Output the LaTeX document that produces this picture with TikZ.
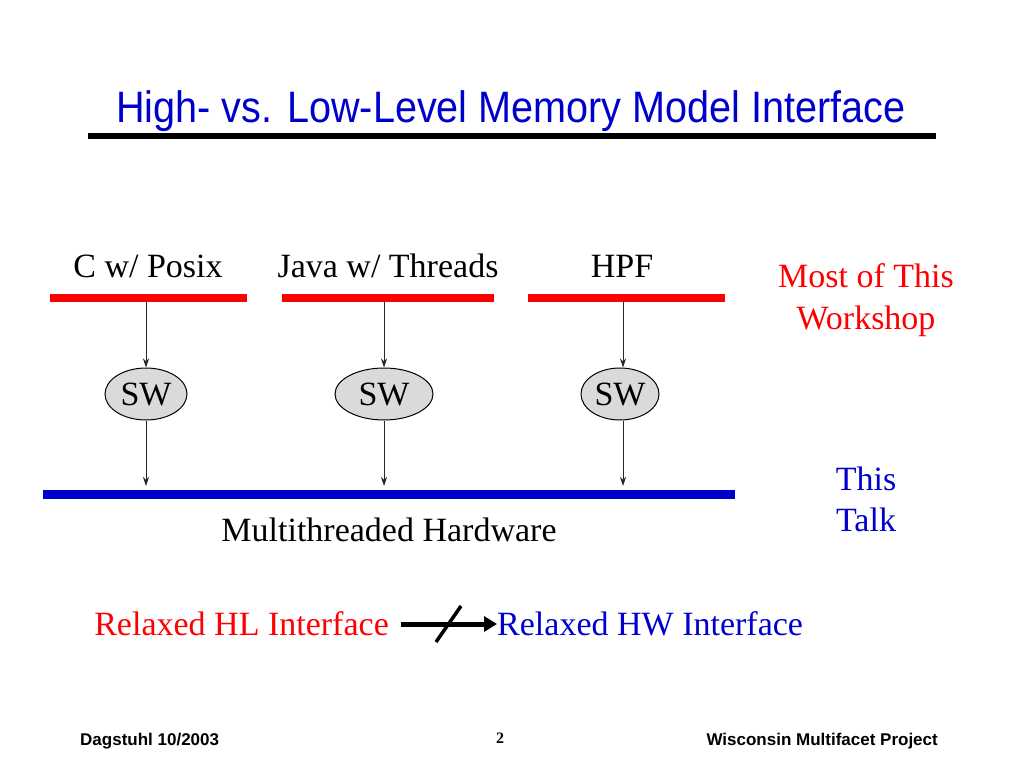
\documentclass[tikz,border=0pt]{standalone}
\usepackage{fontspec}
\setmainfont{Liberation Serif}
\newfontfamily\arial{Liberation Sans}
\usetikzlibrary{arrows.meta,shapes.geometric}
\definecolor{tblue}{RGB}{0,0,204}
\definecolor{tred}{RGB}{255,0,0}
\definecolor{swgray}{RGB}{218,218,218}
\begin{document}
\begin{tikzpicture}[x=1pt,y=-1pt,
  body/.style={font=\fontsize{34}{38}\selectfont, inner sep=0pt, anchor=base},
  redbar/.style={tred, line width=8pt},
  bluebar/.style={tblue, line width=9pt},
  sw/.style={ellipse, draw=black, fill=swgray, line width=1pt, minimum height=52pt, inner sep=1pt, font=\fontsize{34}{38}\selectfont},
  thin arrow/.style={-{Stealth[length=9pt,width=6pt]}, line width=1pt, draw=black!85},
  foot/.style={font=\arial\bfseries\fontsize{17}{19}\selectfont, inner sep=0pt, anchor=base}]
\useasboundingbox (0,0) rectangle (1024,768);
% title
\node[anchor=base, inner sep=0pt, text=tblue, font=\arial\fontsize{44}{48}\selectfont, xscale=0.9] (title) at (511,122) {High- vs. Low-Level Memory Model Interface};
\draw[line width=6.5pt] (88,136) -- (936,136);
% labels
\node[body] (lc) at (148,277) {C w/ Posix};
\node[body] (lj) at (388,277) {Java w/ Threads};
\node[body] (lh) at (622,277) {HPF};
\node[body, text=tred] (most) at (866,287) {Most of This};
\node[body, text=tred] (work) at (866,329) {Workshop};
\node[body, text=tblue] (this) at (866,490) {This};
\node[body, text=tblue] (talk) at (866,531) {Talk};
\node[body] (mh) at (389,541) {Multithreaded Hardware};
% bars
\coordinate (r1a) at (50,298); \coordinate (r1b) at (247,298);
\coordinate (r2a) at (282,298); \coordinate (r2b) at (494,298);
\coordinate (r3a) at (528,298); \coordinate (r3b) at (725,298);
\draw[redbar] (r1a) -- (r1b);
\draw[redbar] (r2a) -- (r2b);
\draw[redbar] (r3a) -- (r3b);
\coordinate (ba) at (43,494); \coordinate (bb) at (735,494);
\draw[bluebar] (ba) -- (bb);
% SW ellipses
\node[sw, minimum width=82pt] (sw1) at (146,394) {SW};
\node[sw, minimum width=98pt] (sw2) at (384,394) {SW};
\node[sw, minimum width=78pt] (sw3) at (620,394) {SW};
\coordinate (t1) at (146,302); \coordinate (t2) at (384,302); \coordinate (t3) at (623,302);
\coordinate (h1) at (146,486); \coordinate (h2) at (384,486); \coordinate (h3) at (623,486);
\draw[thin arrow] (t1) -- (t1 |- sw1.north);
\draw[thin arrow] (t2) -- (t2 |- sw2.north);
\draw[thin arrow] (t3) -- (t3 |- sw3.north);
\draw[thin arrow] (h1 |- sw1.south) -- (h1);
\draw[thin arrow] (h2 |- sw2.south) -- (h2);
\draw[thin arrow] (h3 |- sw3.south) -- (h3);
% relaxed
\node[body, text=tred, anchor=base east] (rhl) at (389,635) {Relaxed HL Interface};
\node[body, text=tblue, anchor=base west] (rhw) at (497,635) {Relaxed HW Interface};
\coordinate (ra) at (401,624); \coordinate (rb) at (497,624);
\draw[line width=5pt, -{Triangle[length=13pt,width=15pt]}] (ra) -- (rb);
\coordinate (s1) at (436,642); \coordinate (s2) at (461,606);
\draw[line width=3.5pt] (s1) -- (s2);
% footer
\node[foot, anchor=base west] (f1) at (80,745) {Dagstuhl 10/2003};
\node[anchor=base, inner sep=0pt, font=\bfseries\fontsize{16}{18}\selectfont] (f2) at (500,743) {2};
\node[foot, anchor=base east] (f3) at (938,745) {Wisconsin Multifacet Project};
\end{tikzpicture}
\end{document}
